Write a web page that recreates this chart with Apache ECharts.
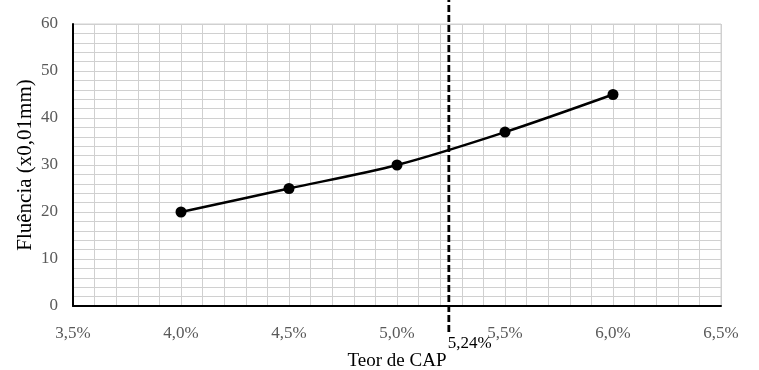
<!DOCTYPE html>
<html>
<head>
<meta charset="utf-8">
<script src="https://cdn.jsdelivr.net/npm/echarts@6/dist/echarts.min.js"></script>
<style>
html,body{margin:0;padding:0;background:#fff;}
#chart{width:759px;height:370px;}
</style>
</head>
<body>
<div id="chart"></div>
<script>
// Teor de CAP (%) and flow values
const teorCAP = [4.0, 4.5, 5.0, 5.5, 6.0];
const fluencia = [20, 25, 30, 37, 45];
// Optimum binder content marker
const teorOtimo = 5.24;

const fmt = v => v.toFixed(Math.round(v * 100) % 10 === 0 ? 1 : 2).replace('.', ',') + '%';
const FONT = '"Liberation Serif", "Times New Roman", serif';

const chart = echarts.init(document.getElementById('chart'));
chart.setOption({
  animation: false,
  grid: [
    { left: 73, right: 38, top: 24, height: 282, show: true, borderColor: '#d0d0d0', borderWidth: 1,
      containLabel: false, outerBoundsMode: 'none' },
    { left: 73, right: 38, top: 0, height: 332, show: false, containLabel: false, outerBoundsMode: 'none' }
  ],
  xAxis: [
    {
      gridIndex: 0, type: 'value', min: 3.5, max: 6.5, interval: 0.5,
      name: 'Teor de CAP', nameLocation: 'middle', nameGap: 46, nameMoveOverlap: false,
      nameTextStyle: { fontFamily: FONT, fontSize: 19, color: '#000' },
      axisLine: { lineStyle: { color: '#000', width: 2 } },
      axisTick: { show: false },
      axisLabel: { fontFamily: FONT, fontSize: 17, color: '#595959', margin: 19, formatter: v => fmt(v) },
      splitLine: { lineStyle: { color: '#d0d0d0', width: 1 } },
      minorTick: { show: false, splitNumber: 5 },
      minorSplitLine: { show: true, lineStyle: { color: '#d0d0d0', width: 1 } }
    },
    { gridIndex: 1, type: 'value', min: 3.5, max: 6.5, show: false }
  ],
  yAxis: [
    {
      gridIndex: 0, type: 'value', min: 0, max: 60, interval: 10,
      name: 'Fluência (x0,01mm)', nameLocation: 'middle', nameGap: 37, nameMoveOverlap: false,
      nameTextStyle: { fontFamily: FONT, fontSize: 21, color: '#000' },
      axisLine: { show: true, lineStyle: { color: '#000', width: 2 } },
      axisTick: { show: false },
      axisLabel: { fontFamily: FONT, fontSize: 17, color: '#595959', margin: 15 },
      splitLine: { lineStyle: { color: '#d0d0d0', width: 1 } },
      minorTick: { show: false, splitNumber: 5 },
      minorSplitLine: { show: true, lineStyle: { color: '#d0d0d0', width: 1 } }
    },
    { gridIndex: 1, type: 'value', min: 0, max: 1, show: false }
  ],
  series: [
    {
      type: 'line', xAxisIndex: 0, yAxisIndex: 0,
      data: teorCAP.map((x, i) => [x, fluencia[i]]),
      smooth: 0.3,
      symbol: 'circle', symbolSize: 11,
      lineStyle: { color: '#000', width: 2.5 },
      itemStyle: { color: '#000' },
      z: 5
    },
    {
      type: 'line', xAxisIndex: 1, yAxisIndex: 1,
      data: [[teorOtimo, 0], [teorOtimo, 1]],
      symbol: 'none',
      lineStyle: { color: '#000', width: 2.8, type: [7, 3] },
      z: 6,
      markPoint: {
        symbol: 'rect', symbolSize: 0,
        data: [{ coord: [teorOtimo, 0] }],
        label: {
          show: true, position: 'right', offset: [-6, 12],
          formatter: () => fmt(teorOtimo),
          fontFamily: FONT, fontSize: 17, color: '#000'
        }
      }
    }
  ]
});
</script>
</body>
</html>
